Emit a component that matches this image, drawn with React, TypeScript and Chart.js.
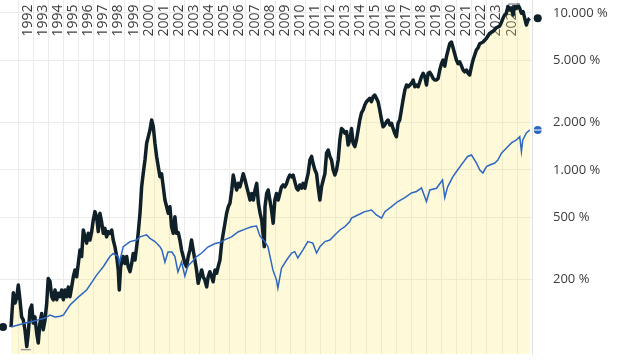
import React, { useEffect, useRef } from "react";
import { Chart, registerables } from "chart.js";

Chart.register(...registerables);

// ---------- data ----------
const yearLabels = [
  "1992", "1993", "1994", "1995", "1996", "1997", "1998", "1999", "2000", "2001", "2002",
  "2003", "2004", "2005", "2006", "2007", "2008", "2009", "2010", "2011", "2012", "2013",
  "2014", "2015", "2016", "2017", "2018", "2019", "2020", "2021", "2022", "2023", "2024",
];
const gridYears = [
  1992, 1993, 1994, 1995, 1996, 1997, 1998, 1999, 2000, 2001, 2002, 2003, 2004, 2005, 2006,
  2007, 2008, 2009, 2010, 2011, 2012, 2013, 2014, 2015, 2016, 2017, 2018, 2019, 2020, 2021,
  2022, 2023, 2024, 2025,
];
const yTickValues = [200, 500, 1000, 2000, 5000, 10000];

// stock (black, filled) – value in % (start = 100 %)
const stockDates = [
  1991.52, 1991.67, 1991.78, 1991.89, 1992.0, 1992.11, 1992.22, 1992.33, 1992.44, 1992.56,
  1992.66, 1992.77, 1992.89, 1992.99, 1993.1, 1993.22, 1993.32, 1993.43, 1993.55, 1993.65,
  1993.77, 1993.88, 1993.98, 1994.1, 1994.21, 1994.31, 1994.43, 1994.54, 1994.64, 1994.76,
  1994.87, 1994.98, 1995.09, 1995.2, 1995.31, 1995.42, 1995.53, 1995.64, 1995.75, 1995.86,
  1995.97, 1996.08, 1996.19, 1996.3, 1996.41, 1996.52, 1996.63, 1996.74, 1996.85, 1996.96,
  1997.07, 1997.18, 1997.29, 1997.4, 1997.51, 1997.62, 1997.73, 1997.84, 1997.95, 1998.06,
  1998.18, 1998.28, 1998.39, 1998.51, 1998.61, 1998.68, 1998.77, 1998.94, 1999.05, 1999.17,
  1999.27, 1999.39, 1999.5, 1999.6, 1999.72, 1999.83, 1999.93, 2000.05, 2000.16, 2000.26,
  2000.38, 2000.49, 2000.6, 2000.71, 2000.82, 2000.93, 2001.04, 2001.15, 2001.26, 2001.37,
  2001.48, 2001.59, 2001.7, 2001.81, 2001.92, 2002.03, 2002.14, 2002.25, 2002.36, 2002.47,
  2002.58, 2002.69, 2002.8, 2002.91, 2003.02, 2003.13, 2003.24, 2003.35, 2003.46, 2003.57,
  2003.68, 2003.79, 2003.9, 2004.01, 2004.13, 2004.23, 2004.34, 2004.46, 2004.56, 2004.67,
  2004.79, 2004.89, 2005.01, 2005.12, 2005.22, 2005.34, 2005.45, 2005.56, 2005.67, 2005.78,
  2005.89, 2006.0, 2006.12, 2006.22, 2006.33, 2006.45, 2006.55, 2006.66, 2006.78, 2006.88,
  2007.0, 2007.11, 2007.22, 2007.33, 2007.44, 2007.55, 2007.66, 2007.77, 2007.88, 2007.99,
  2008.1, 2008.21, 2008.27, 2008.32, 2008.43, 2008.53, 2008.64, 2008.75, 2008.86, 2008.97,
  2009.08, 2009.19, 2009.3, 2009.41, 2009.52, 2009.63, 2009.75, 2009.85, 2009.96, 2010.08,
  2010.18, 2010.29, 2010.41, 2010.51, 2010.62, 2010.74, 2010.84, 2010.96, 2011.07, 2011.17,
  2011.29, 2011.4, 2011.5, 2011.62, 2011.73, 2011.83, 2011.95, 2012.06, 2012.17, 2012.28,
  2012.39, 2012.5, 2012.61, 2012.72, 2012.83, 2012.94, 2013.05, 2013.16, 2013.27, 2013.38,
  2013.49, 2013.6, 2013.71, 2013.82, 2013.93, 2014.04, 2014.15, 2014.26, 2014.37, 2014.48,
  2014.59, 2014.7, 2014.81, 2014.92, 2015.03, 2015.14, 2015.25, 2015.36, 2015.47, 2015.58,
  2015.69, 2015.8, 2015.91, 2016.03, 2016.13, 2016.24, 2016.36, 2016.46, 2016.58, 2016.69,
  2016.79, 2016.9, 2017.01, 2017.12, 2017.23, 2017.34, 2017.45, 2017.57, 2017.68, 2017.79,
  2017.9, 2018.01, 2018.12, 2018.23, 2018.34, 2018.45, 2018.56, 2018.67, 2018.78, 2018.89,
  2019.0, 2019.11, 2019.22, 2019.33, 2019.44, 2019.55, 2019.66, 2019.77, 2019.88, 2019.99,
  2020.1, 2020.21, 2020.32, 2020.43, 2020.54, 2020.65, 2020.76, 2020.87, 2020.98, 2021.09,
  2021.2, 2021.32, 2021.42, 2021.53, 2021.65, 2021.75, 2021.86, 2021.98, 2022.08, 2022.19,
  2022.3, 2022.41, 2022.52, 2022.74, 2022.97, 2023.18, 2023.4, 2023.62, 2023.84, 2023.95,
  2024.06, 2024.17, 2024.28, 2024.39, 2024.5, 2024.61, 2024.73, 2024.83, 2024.95, 2025.06,
  2025.17, 2025.28, 2025.39, 2025.5, 2025.61, 2025.72, 2025.83,
];
const stockValues = [
  100, 165, 142, 153, 185, 149, 116, 111, 96, 75,
  91, 128, 138, 106, 116, 91, 79, 106, 122, 96,
  111, 142, 204, 195, 156, 149, 172, 149, 164, 156,
  172, 149, 172, 156, 180, 156, 180, 209, 231, 209,
  254, 309, 281, 415, 375, 342, 395, 358, 403, 480,
  543, 504, 405, 530, 469, 395, 425, 375, 405, 395,
  415, 358, 325, 281, 231, 172, 242, 281, 254, 281,
  242, 225, 254, 294, 267, 325, 395, 530, 781, 947,
  1158, 1480, 1630, 1798, 2082, 1885, 1480, 1220, 1050, 905,
  947, 781, 644, 584, 530, 584, 435, 395, 504, 395,
  400, 358, 309, 281, 254, 242, 281, 309, 358, 309,
  267, 231, 190, 209, 231, 209, 199, 180, 209, 225,
  209, 194, 231, 220, 242, 267, 342, 395, 458, 530,
  584, 615, 746, 929, 822, 746, 822, 781, 864, 947,
  864, 781, 709, 644, 709, 644, 746, 822, 615, 533,
  480, 375, 325, 584, 709, 746, 644, 556, 458, 644,
  709, 644, 709, 781, 803, 781, 822, 882, 929, 905,
  929, 844, 765, 746, 803, 765, 822, 765, 864, 947,
  1158, 1220, 1100, 1000, 947, 781, 644, 781, 864, 947,
  1280, 1341, 1220, 1158, 1000, 929, 1000, 1158, 1553, 1840,
  1798, 1715, 1757, 1443, 1553, 1840, 1480, 1410, 1553, 1798,
  2082, 2310, 2411, 2594, 2720, 2792, 2860, 2720, 2930, 3004,
  2860, 2720, 2411, 2082, 1885, 1935, 2030, 2082, 1935, 1985,
  1840, 1715, 1630, 1985, 2082, 2411, 2792, 3233, 3479, 3390,
  3479, 3570, 3743, 3390, 3479, 3390, 3650, 3930, 4130, 3930,
  3479, 4130, 4190, 4028, 3830, 3743, 3743, 3830, 4335, 4750,
  5019, 4590, 5260, 5812, 6370, 6530, 6000, 5480, 5019, 4750,
  4880, 4590, 4335, 4220, 4335, 4130, 4028, 4590, 5019, 5400,
  5812, 6000, 6370, 6530, 6900, 7430, 7630, 8050, 8250, 8700,
  9250, 9710, 9960, 11000, 10450, 10700, 9710, 11000, 10700, 11240,
  10700, 9960, 10200, 9250, 8390, 9025, 9250,
];

// index (blue line) – value in %
const indexDates = [
  1991.52, 1992.0, 1992.44, 1992.89, 1993.32, 1993.77, 1994.1, 1994.43, 1994.76, 1994.98,
  1995.42, 1995.97, 1996.52, 1996.96, 1997.18, 1997.62, 1998.06, 1998.28, 1998.61, 1998.68,
  1998.94, 1999.39, 1999.83, 2000.05, 2000.49, 2000.71, 2001.04, 2001.37, 2001.5, 2001.7,
  2001.9, 2002.16, 2002.36, 2002.56, 2002.8, 2003.02, 2003.22, 2003.48, 2003.75, 2004.13,
  2004.54, 2005.01, 2005.34, 2005.67, 2006.11, 2006.53, 2007.0, 2007.43, 2007.76, 2007.98,
  2008.31, 2008.51, 2008.75, 2008.84, 2009.08, 2009.17, 2009.41, 2009.75, 2010.08, 2010.29,
  2010.49, 2010.82, 2011.15, 2011.48, 2011.73, 2011.95, 2012.28, 2012.61, 2012.94, 2013.27,
  2013.6, 2013.93, 2014.04, 2014.46, 2014.92, 2015.36, 2015.69, 2016.03, 2016.25, 2016.69,
  2017.11, 2017.57, 2018.01, 2018.34, 2018.67, 2019.0, 2019.22, 2019.66, 2020.06, 2020.21,
  2020.4, 2020.74, 2021.06, 2021.39, 2021.72, 2021.98, 2022.31, 2022.53, 2022.73, 2022.97,
  2023.19, 2023.52, 2023.72, 2023.96, 2024.29, 2024.62, 2024.95, 2025.17, 2025.28, 2025.37,
  2025.61, 2025.83,
];
const indexValues = [
  100, 103, 106, 108, 111, 114, 119, 116, 117, 119,
  138, 155, 172, 199, 214, 242, 281, 294, 281, 254,
  325, 350, 358, 375, 386, 367, 350, 325, 309, 259,
  300, 300, 281, 224, 259, 211, 245, 259, 279, 296,
  323, 340, 345, 360, 375, 403, 420, 435, 440, 380,
  350, 325, 254, 231, 199, 177, 237, 267, 296, 302,
  275, 309, 350, 342, 296, 325, 350, 358, 386, 415,
  435, 469, 494, 517, 543, 556, 517, 494, 543, 584,
  630, 667, 714, 730, 768, 630, 746, 765, 864, 667,
  781, 905, 1000, 1107, 1220, 1246, 1107, 1000, 958, 1050,
  1076, 1107, 1158, 1280, 1380, 1488, 1553, 1630, 1310, 1553,
  1720, 1798,
];

// ---------- style ----------
const STOCK_COLOR = "#0f2029";
const INDEX_COLOR = "#2e67c2";
const FILL_COLOR = "rgba(250, 232, 110, 0.26)";
const GRID_COLOR = "#ebebeb";
const TEXT_COLOR = "#3c3c3c";
const FONT = "'Open Sans', 'Noto Sans', sans-serif";
const X_MIN = 1990.79;
const X_MAX = 2025.98;
const Y_MIN = 67.3;
const Y_MAX = 12100;

function formatPercent(v: number): string {
  return String(Math.round(v)).replace(/\B(?=(\d{3})+(?!\d))/g, ".") + " %";
}

const overlayPlugin = {
  id: "overlay",
  beforeDatasetsDraw(chart: any) {
    const { ctx } = chart;
    const xs = chart.scales.x;
    ctx.save();
    ctx.font = `14px ${FONT}`;
    ctx.fillStyle = TEXT_COLOR;
    ctx.textAlign = "left";
    ctx.textBaseline = "middle";
    yearLabels.forEach((label) => {
      const px = xs.getPixelForValue(Number(label)) + 9.5;
      ctx.save();
      ctx.translate(px, 36.5);
      ctx.rotate(-Math.PI / 2);
      ctx.fillText(label, 0, 0);
      ctx.restore();
    });
    ctx.restore();
  },
  afterDraw(chart: any) {
    const { ctx } = chart;
    const xs = chart.scales.x;
    const ys = chart.scales.y;
    ctx.save();

    // min / max markers of the stock series
    let iMin = 0;
    let iMax = 0;
    stockValues.forEach((v, i) => {
      if (v < stockValues[iMin]) iMin = i;
      if (v > stockValues[iMax]) iMax = i;
    });
    ctx.strokeStyle = "#9a9a9a";
    ctx.lineWidth = 1.5;
    const mnx = xs.getPixelForValue(stockDates[iMin]);
    const mny = ys.getPixelForValue(stockValues[iMin]);
    ctx.beginPath();
    ctx.moveTo(mnx - 6, mny + 3);
    ctx.lineTo(mnx + 4, mny + 3);
    ctx.stroke();
    const mxx = xs.getPixelForValue(stockDates[iMax]);
    const mxy = ys.getPixelForValue(stockValues[iMax]);
    ctx.beginPath();
    ctx.moveTo(mxx - 10, mxy - 1);
    ctx.lineTo(mxx + 2, mxy - 1);
    ctx.stroke();

    const dot = (x: number, y: number, color: string) => {
      ctx.beginPath();
      ctx.arc(x, y, 4, 0, Math.PI * 2);
      ctx.fillStyle = color;
      ctx.fill();
    };
    const n = stockDates.length - 1;
    dot(xs.getPixelForValue(stockDates[0]) - 8, ys.getPixelForValue(stockValues[0]), STOCK_COLOR);
    dot(xs.getPixelForValue(stockDates[n]) + 8, ys.getPixelForValue(stockValues[n]), STOCK_COLOR);
    const m = indexDates.length - 1;
    const bx = xs.getPixelForValue(indexDates[m]) + 8;
    const by = ys.getPixelForValue(indexValues[m]);
    dot(bx, by, INDEX_COLOR);
    ctx.fillStyle = "#ffffff";
    ctx.fillRect(bx - 5, by - 0.5, 10, 1);
    ctx.restore();
  },
};

export default function App() {
  const canvasRef = useRef<HTMLCanvasElement | null>(null);

  useEffect(() => {
    document.body.style.margin = "0";
    const canvas = canvasRef.current;
    if (!canvas) return;
    const chart = new Chart(canvas, {
      type: "line",
      data: {
        datasets: [
          {
            label: "Index",
            data: indexDates.map((d, i) => ({ x: d, y: indexValues[i] })),
            borderColor: INDEX_COLOR,
            borderWidth: 1.5,
            pointRadius: 0,
            fill: false,
            tension: 0,
          },
          {
            label: "Aktie",
            data: stockDates.map((d, i) => ({ x: d, y: stockValues[i] })),
            borderColor: STOCK_COLOR,
            borderWidth: 3.5,
            borderJoinStyle: "round",
            pointRadius: 0,
            fill: "start",
            backgroundColor: FILL_COLOR,
            tension: 0,
          },
        ],
      },
      options: {
        responsive: false,
        animation: false,
        devicePixelRatio: 1,
        layout: { padding: { left: 0, right: 0, top: 0, bottom: 6 } },
        plugins: { legend: { display: false }, tooltip: { enabled: false } },
        scales: {
          x: {
            type: "linear",
            position: "top",
            min: X_MIN,
            max: X_MAX,
            afterBuildTicks: (s: any) => {
              s.ticks = gridYears.map((v) => ({ value: v }));
            },
            afterFit: (s: any) => {
              s.height = 0;
              s.paddingLeft = 0;
              s.paddingRight = 0;
            },
            ticks: { display: false },
            grid: { color: GRID_COLOR, drawTicks: false },
            border: { display: false },
          },
          y: {
            type: "logarithmic",
            position: "right",
            min: Y_MIN,
            max: Y_MAX,
            afterBuildTicks: (s: any) => {
              s.ticks = yTickValues.map((v) => ({ value: v }));
            },
            afterFit: (s: any) => {
              s.width = 89;
              s.paddingTop = 0;
              s.paddingBottom = 0;
            },
            ticks: {
              callback: (v: any) => formatPercent(Number(v)),
              font: { family: FONT, size: 13 },
              color: TEXT_COLOR,
              padding: 0,
            },
            grid: {
              color: GRID_COLOR,
              drawTicks: true,
              tickLength: 21,
              tickColor: "rgba(0,0,0,0)",
            },
            border: { display: true, color: "#e2e2e2" },
          },
        },
      } as any,
      plugins: [overlayPlugin],
    });
    return () => chart.destroy();
  }, []);

  return (
    <div style={{ width: 621, height: 360 }}>
      <canvas ref={canvasRef} width={621} height={360} style={{ display: "block" }} />
    </div>
  );
}
